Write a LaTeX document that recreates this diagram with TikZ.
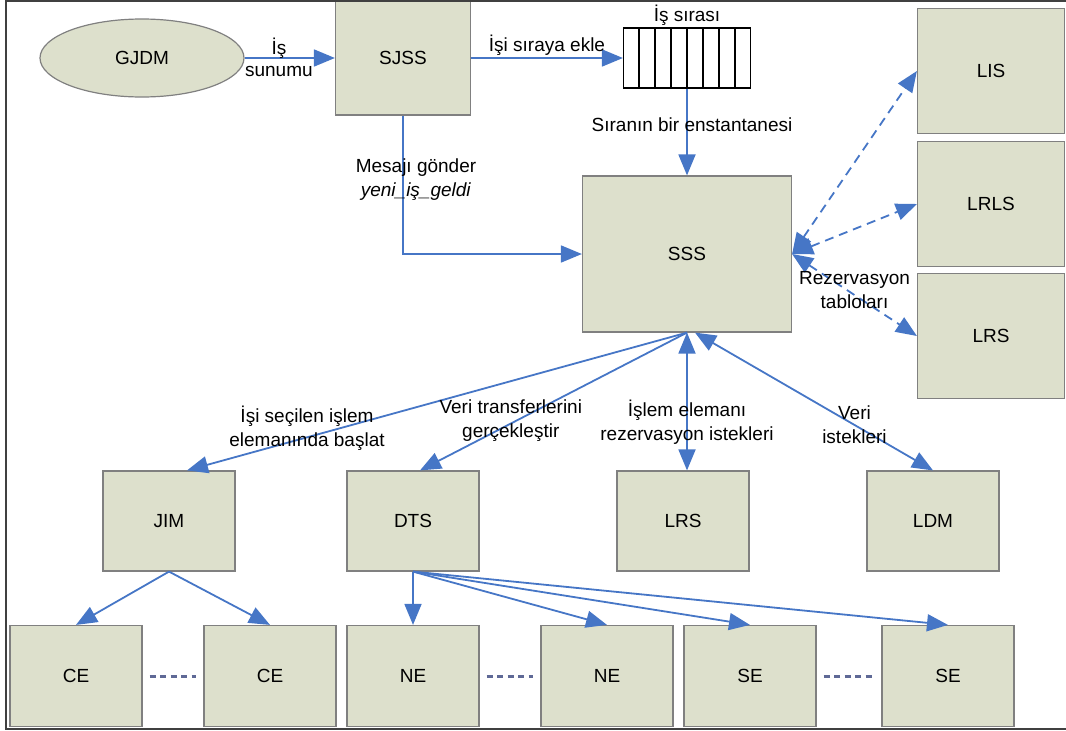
\documentclass[tikz,border=0pt]{standalone}
\usepackage{fontspec}
\setmainfont{Liberation Sans}
\usetikzlibrary{calc, shapes.geometric, positioning, arrows.meta}
\definecolor{boxfill}{RGB}{221,224,204}
\definecolor{boxline}{RGB}{128,128,128}
\definecolor{arrblue}{RGB}{70,118,198}
\definecolor{gapblue}{RGB}{95,105,150}
\tikzset{
  blk/.style={draw=boxline, fill=boxfill, line width=1.2pt, minimum width=132pt, minimum height=100pt, inner sep=0pt},
  arr/.style={draw=arrblue, line width=1.8pt, -{Triangle[length=21pt,width=17pt]}},
  darr/.style={arr, {Triangle[length=21pt,width=17pt]}-{Triangle[length=21pt,width=17pt]}},
  dsh/.style={darr, dash pattern=on 9pt off 6pt},
  gap/.style={draw=gapblue, line width=3pt, dash pattern=on 6pt off 4.5pt, shorten <=7pt, shorten >=7pt},
}

\begin{document}
\begin{tikzpicture}[x=1pt, y=-1pt, font=\fontsize{19}{24}\selectfont]
\useasboundingbox (0,0) rectangle (1066,731);

\node[ellipse, draw=boxline, fill=boxfill, line width=1.2pt, minimum width=204pt, minimum height=78pt] (gjdm) at (142,58) {GJDM};
\node[blk, minimum width=135pt, minimum height=114pt] (sjss) at (403,58) {SJSS};
\node[draw, line width=1.2pt, minimum width=127pt, minimum height=60pt, inner sep=0pt] (queue) at (687,58) {};
\foreach \i in {1,...,7}
  \draw[line width=1.2pt] ($(queue.north west)!\i/8!(queue.north east)$) -- ($(queue.south west)!\i/8!(queue.south east)$);
\node[above=-2pt of queue] (qname) {İş sırası};
\node[blk, minimum width=209pt, minimum height=156pt] (sss) at (687,254) {SSS};
\node[blk, minimum width=147pt, minimum height=125pt] (lis) at (991,71) {LIS};
\node[blk, minimum width=147pt, minimum height=125pt] (lrls) at (991,204) {LRLS};
\node[blk, minimum width=147pt, minimum height=125pt] (lrsr) at (991,336) {LRS};

\node[blk] (jim) at (169,521) {JIM};
\node[blk] (dts) at (413,521) {DTS};
\node[blk] (lrsb) at (683,521) {LRS};
\node[blk] (ldm) at (933,521) {LDM};

\node[blk, minimum height=101pt] (ce1) at (76,676) {CE};
\node[blk, minimum height=101pt] (ce2) at (270,676) {CE};
\node[blk, minimum height=101pt] (ne1) at (413,676) {NE};
\node[blk, minimum height=101pt] (ne2) at (607,676) {NE};
\node[blk, minimum height=101pt] (se1) at (750,676) {SE};
\node[blk, minimum height=101pt] (se2) at (948,676) {SE};

\draw[arr] (gjdm) -- node[above, pos=0.38, inner sep=1pt, yshift=-2pt] (lis1) {İş} node[below, pos=0.38, inner sep=1pt, yshift=-6pt] (lis2) {sunumu} (sjss);
\draw[arr] (sjss) -- node[above, inner sep=2pt] (lekle) {İşi sıraya ekle} (queue);
\draw[arr] (queue) -- node[pos=0.42, xshift=5pt] (lsnap) {Sıranın bir enstantanesi} (sss);
\draw[arr] (sjss.south) |- node[pos=0.23, xshift=13pt, align=center] (lmsg) {Mesajı gönder\\\textit{yeni\_iş\_geldi}} (sss.west);

\draw[dsh] (sss.east) -- (lis.west);
\draw[dsh] (sss.east) -- (lrls.west);
\draw[dsh] (sss.east) -- node[pos=0.5, yshift=5pt, align=center] (ltab) {Rezervasyon\\tabloları} (lrsr.west);

\draw[arr] (sss.south) -- node[pos=0.76, yshift=9pt, align=center] (lstart) {İşi seçilen işlem\\elemanında başlat} ($(jim.north)+(18,0)$);
\draw[arr] (sss.south) -- node[pos=0.66, yshift=3pt, align=center] (ltrans) {Veri transferlerini\\gerçekleştir} ($(dts.north)+(7,0)$);
\draw[darr] (sss.south) -- node[pos=0.65, align=center] (lres) {İşlem elemanı\\rezervasyon istekleri} (sss.south |- lrsb.north);
\draw[darr] ($(sss.south)+(8,0)$) -- node[pos=0.67, align=center] (lreq) {Veri\\istekleri} (ldm.north);

\draw[arr] (jim.south) -- (ce1.north);
\draw[arr] (jim.south) -- (ce2.north);
\foreach \t in {ne1,ne2,se1,se2}
  \draw[arr] (dts.south) -- (\t.north);

\draw[gap] (ce1) -- (ce2);
\draw[gap] (ne1) -- (ne2);
\draw[gap] (se1) -- (se2);

\draw[black!75, line width=2.5pt] (1066,1) -- (6,1) -- (6,729) -- (1066,729);
\end{tikzpicture}
\end{document}
